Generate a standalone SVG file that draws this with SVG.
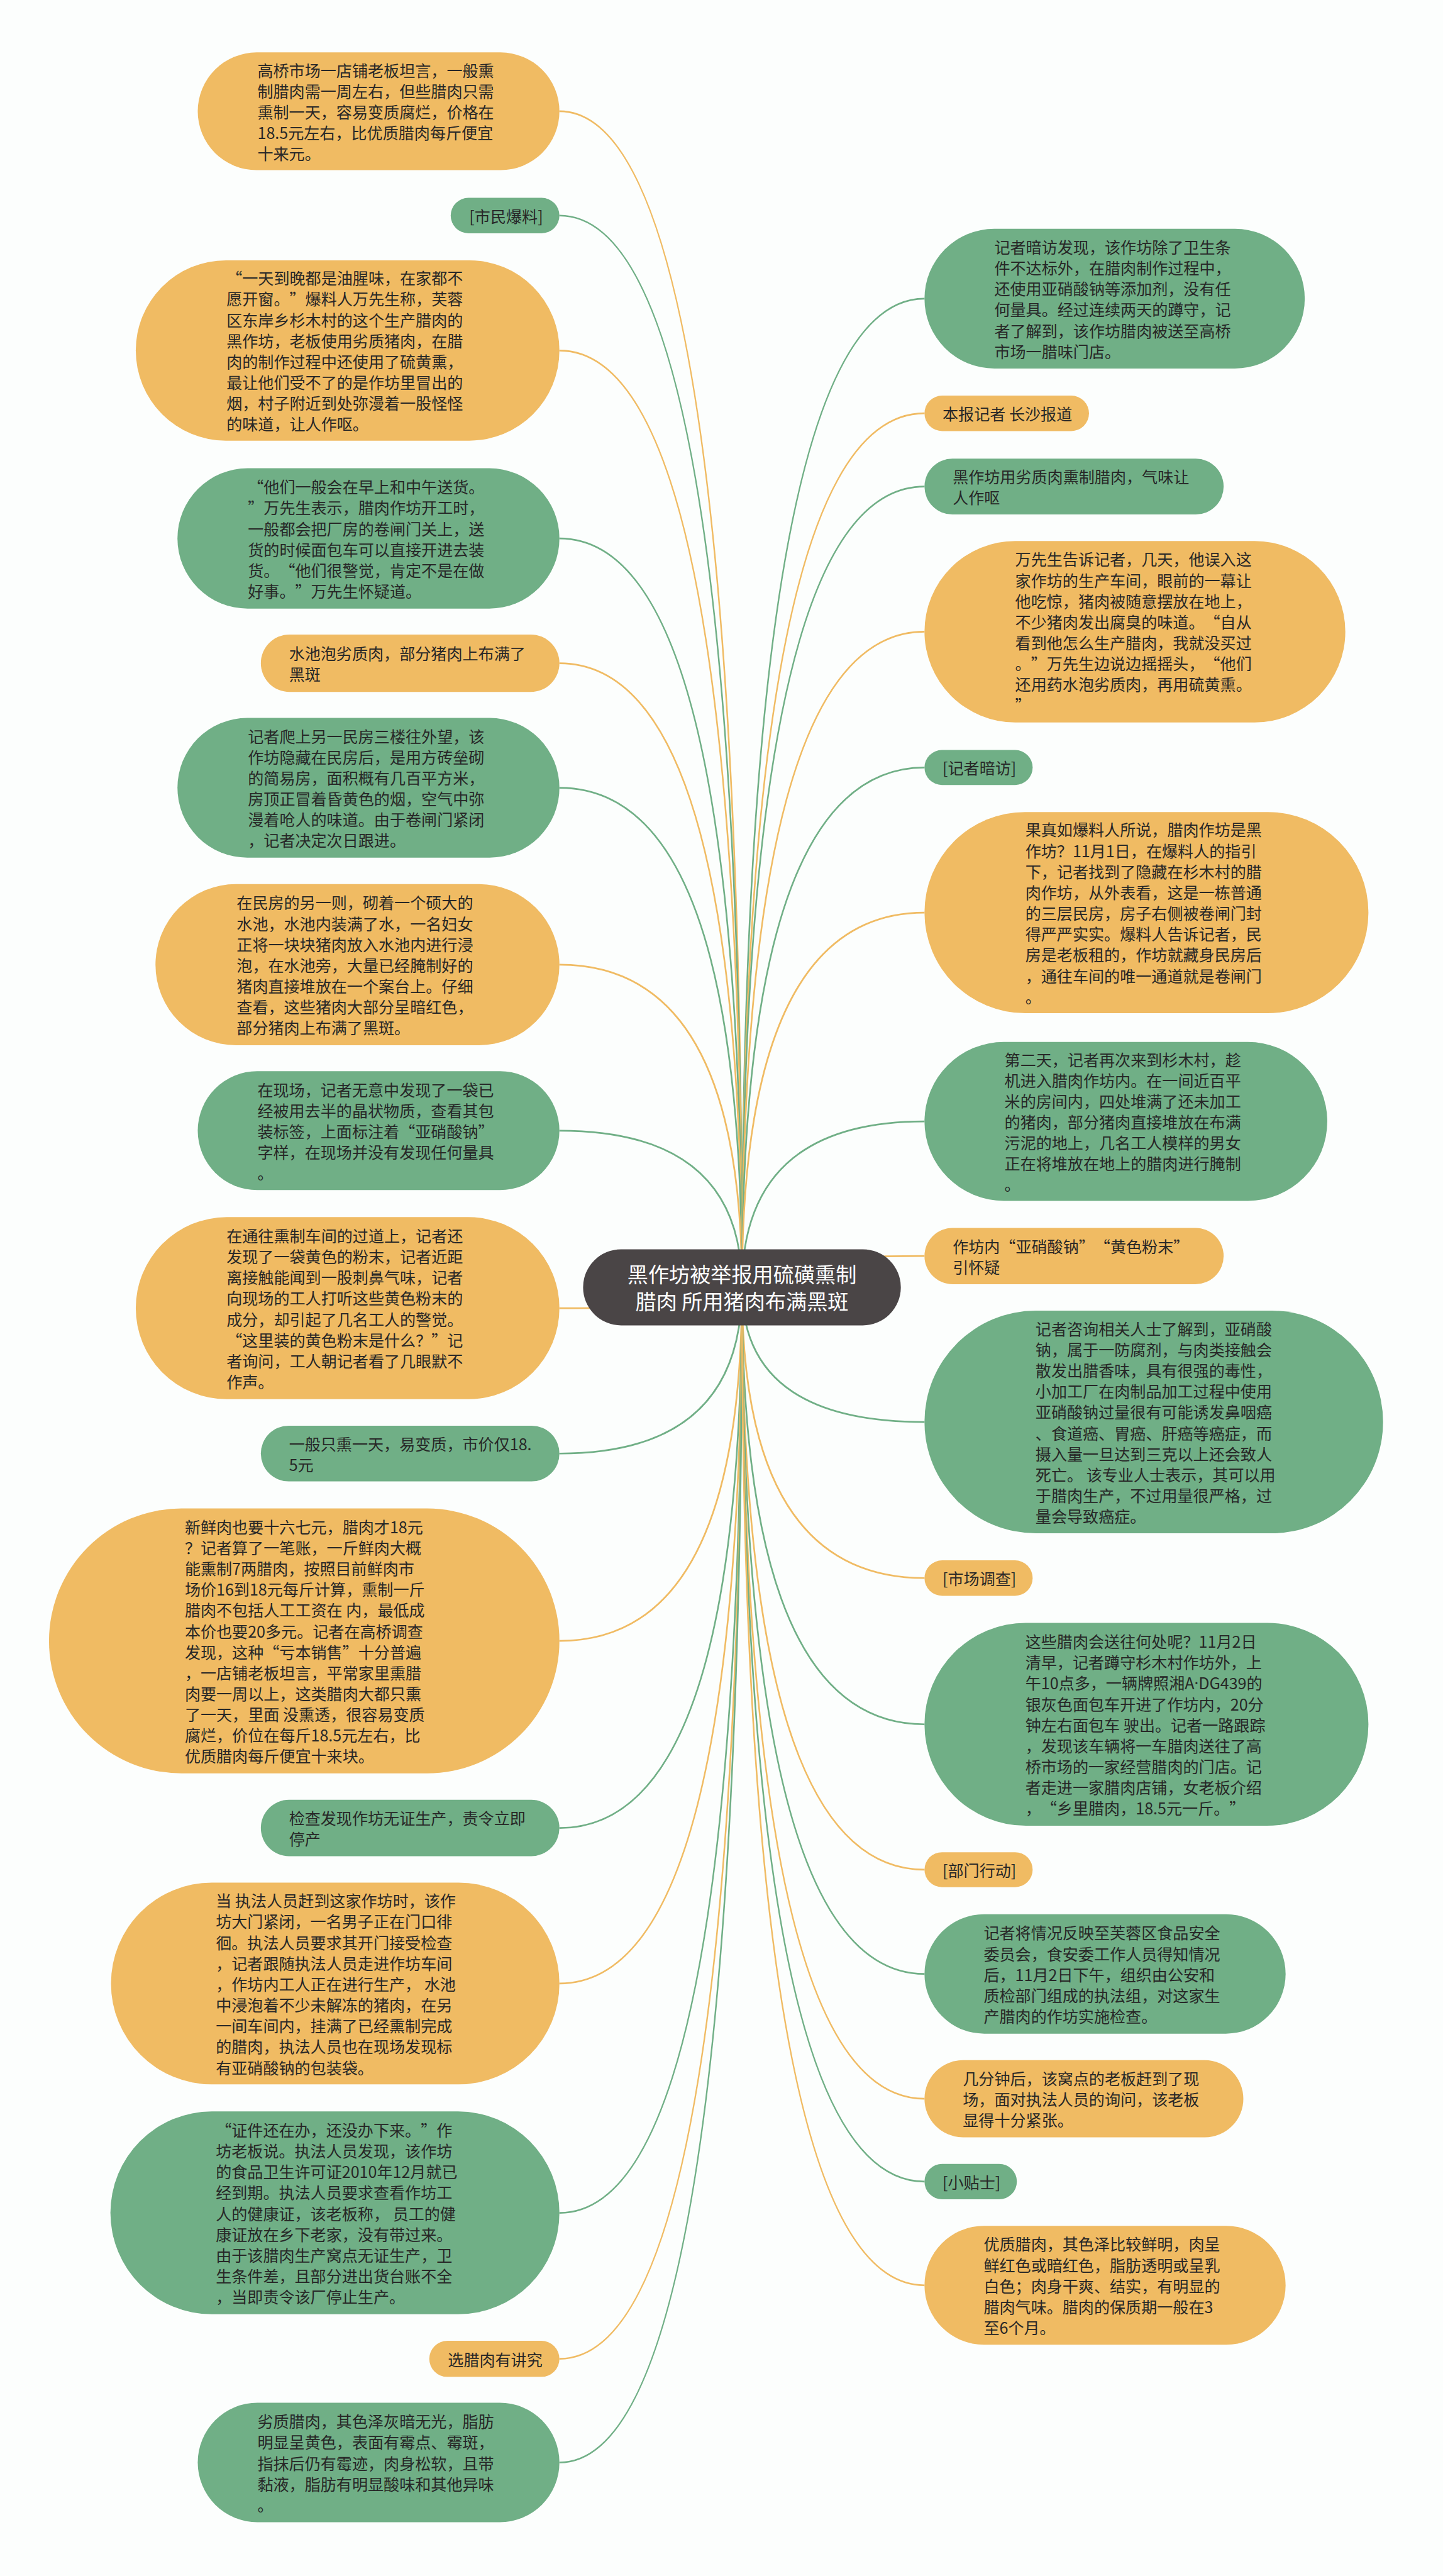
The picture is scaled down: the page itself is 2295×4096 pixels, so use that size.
<svg xmlns="http://www.w3.org/2000/svg" width="2295" height="4096" viewBox="0 0 2295 4096">
<style>
.o{fill:#F0BB63}
.g{fill:#70AF86}
.c{fill:#4A4546}
.lo{fill:none;stroke:#F0BB63;stroke-width:3}
.lg{fill:none;stroke:#70AF86;stroke-width:3}
.t{font-family:"Noto Sans CJK SC","Noto Sans",sans-serif;font-size:28px;fill:#272727;dominant-baseline:central;text-spacing-trim:space-all}
.tc{font-family:"Noto Sans CJK SC","Noto Sans",sans-serif;font-size:37px;fill:#ffffff;dominant-baseline:central;text-anchor:middle;text-spacing-trim:space-all}
.lat{font-family:"Noto Sans",sans-serif}
</style>
<rect x="0" y="0" width="2295" height="4096" fill="#fcfefd"/>
<g transform="scale(0.896)">
<g id="connectors">
<path class="lo" d="M993,197.5 Q1317,197.5 1317,2284"/>
<path class="lg" d="M993,382.5 Q1317,382.5 1317,2284"/>
<path class="lo" d="M993,622 Q1317,622 1317,2284"/>
<path class="lg" d="M993,955.5 Q1317,955.5 1317,2284"/>
<path class="lo" d="M993,1177 Q1317,1177 1317,2284"/>
<path class="lg" d="M993,1398 Q1317,1398 1317,2284"/>
<path class="lo" d="M993,1712 Q1317,1712 1317,2284"/>
<path class="lg" d="M993,2006.5 Q1317,2006.5 1317,2284"/>
<path class="lo" d="M993,2321.5 Q1317,2321.5 1317,2284"/>
<path class="lg" d="M993,2579.5 Q1317,2579.5 1317,2284"/>
<path class="lo" d="M993,2912 Q1317,2912 1317,2284"/>
<path class="lg" d="M993,3244 Q1317,3244 1317,2284"/>
<path class="lo" d="M993,3520 Q1317,3520 1317,2284"/>
<path class="lg" d="M993,3927 Q1317,3927 1317,2284"/>
<path class="lo" d="M993,4186 Q1317,4186 1317,2284"/>
<path class="lg" d="M993,4370 Q1317,4370 1317,2284"/>
<path class="lg" d="M1641,530 Q1317,530 1317,2284"/>
<path class="lo" d="M1641,733.5 Q1317,733.5 1317,2284"/>
<path class="lg" d="M1641,863.5 Q1317,863.5 1317,2284"/>
<path class="lo" d="M1641,1121 Q1317,1121 1317,2284"/>
<path class="lg" d="M1641,1362 Q1317,1362 1317,2284"/>
<path class="lo" d="M1641,1619.5 Q1317,1619.5 1317,2284"/>
<path class="lg" d="M1641,1990 Q1317,1990 1317,2284"/>
<path class="lo" d="M1641,2229 Q1317,2229 1317,2284"/>
<path class="lg" d="M1641,2523.5 Q1317,2523.5 1317,2284"/>
<path class="lo" d="M1641,2800.5 Q1317,2800.5 1317,2284"/>
<path class="lg" d="M1641,3060 Q1317,3060 1317,2284"/>
<path class="lo" d="M1641,3318 Q1317,3318 1317,2284"/>
<path class="lg" d="M1641,3503 Q1317,3503 1317,2284"/>
<path class="lo" d="M1641,3724.5 Q1317,3724.5 1317,2284"/>
<path class="lg" d="M1641,3871.5 Q1317,3871.5 1317,2284"/>
<path class="lo" d="M1641,4055.5 Q1317,4055.5 1317,2284"/>
</g>

<g id="center">
<rect class="c" x="1035" y="2217" width="564" height="135" rx="67.5"/>
<text class="tc"><tspan x="1317" y="2260">黑作坊被举报用硫磺熏制</tspan><tspan x="1317" y="2308">腊肉 所用猪肉布满黑斑</tspan></text>
</g>

<g id="n1">
<rect class="o" x="351" y="93" width="642" height="209" rx="104.5"/>
<text class="t"><tspan x="457" y="123.5">高桥市场一店铺老板坦言，一般熏</tspan><tspan x="457" y="160.5">制腊肉需一周左右，但些腊肉只需</tspan><tspan x="457" y="197.5">熏制一天，容易变质腐烂，价格在</tspan><tspan x="457" y="234.5">18.5元左右，比优质腊肉每斤便宜</tspan><tspan x="457" y="271.5">十来元。</tspan></text>
</g>
<g id="n2">
<rect class="g" x="800" y="351" width="193" height="63" rx="31.5"/>
<text class="t"><tspan x="833" y="382.5">[市民爆料]</tspan></text>
</g>
<g id="n3">
<rect class="o" x="241" y="462" width="752" height="320" rx="160"/>
<text class="t"><tspan x="402" y="492.5">“一天到晚都是油腥味，在家都不</tspan><tspan x="402" y="529.5">愿开窗。”爆料人万先生称，芙蓉</tspan><tspan x="402" y="566.5">区东岸乡杉木村的这个生产腊肉的</tspan><tspan x="402" y="603.5">黑作坊，老板使用劣质猪肉，在腊</tspan><tspan x="402" y="640.5">肉的制作过程中还使用了硫黄熏，</tspan><tspan x="402" y="677.5">最让他们受不了的是作坊里冒出的</tspan><tspan x="402" y="714.5">烟，村子附近到处弥漫着一股怪怪</tspan><tspan x="402" y="751.5">的味道，让人作呕。</tspan></text>
</g>
<g id="n4">
<rect class="g" x="315" y="831" width="678" height="249" rx="124.5"/>
<text class="t"><tspan x="440" y="863">“他们一般会在早上和中午送货。</tspan><tspan x="440" y="900">”万先生表示，腊肉作坊开工时，</tspan><tspan x="440" y="937">一般都会把厂房的卷闸门关上，送</tspan><tspan x="440" y="974">货的时候面包车可以直接开进去装</tspan><tspan x="440" y="1011">货。“他们很警觉，肯定不是在做</tspan><tspan x="440" y="1048">好事。”万先生怀疑道。</tspan></text>
</g>
<g id="n5">
<rect class="o" x="463" y="1126" width="530" height="102" rx="51"/>
<text class="t"><tspan x="513" y="1158.5">水池泡劣质肉，部分猪肉上布满了</tspan><tspan x="513" y="1195.5">黑斑</tspan></text>
</g>
<g id="n6">
<rect class="g" x="315" y="1274" width="678" height="248" rx="124"/>
<text class="t"><tspan x="440" y="1305.5">记者爬上另一民房三楼往外望，该</tspan><tspan x="440" y="1342.5">作坊隐藏在民房后，是用方砖垒砌</tspan><tspan x="440" y="1379.5">的简易房，面积概有几百平方米，</tspan><tspan x="440" y="1416.5">房顶正冒着昏黄色的烟，空气中弥</tspan><tspan x="440" y="1453.5">漫着呛人的味道。由于卷闸门紧闭</tspan><tspan x="440" y="1490.5">，记者决定次日跟进。</tspan></text>
</g>
<g id="n7">
<rect class="o" x="276" y="1569" width="717" height="286" rx="143"/>
<text class="t"><tspan x="420" y="1601">在民房的另一则，砌着一个硕大的</tspan><tspan x="420" y="1638">水池，水池内装满了水，一名妇女</tspan><tspan x="420" y="1675">正将一块块猪肉放入水池内进行浸</tspan><tspan x="420" y="1712">泡，在水池旁，大量已经腌制好的</tspan><tspan x="420" y="1749">猪肉直接堆放在一个案台上。仔细</tspan><tspan x="420" y="1786">查看，这些猪肉大部分呈暗红色，</tspan><tspan x="420" y="1823">部分猪肉上布满了黑斑。</tspan></text>
</g>
<g id="n8">
<rect class="g" x="351" y="1901" width="642" height="211" rx="105.5"/>
<text class="t"><tspan x="457" y="1932.5">在现场，记者无意中发现了一袋已</tspan><tspan x="457" y="1969.5">经被用去半的晶状物质，查看其包</tspan><tspan x="457" y="2006.5">装标签，上面标注着“亚硝酸钠”</tspan><tspan x="457" y="2043.5">字样，在现场并没有发现任何量具</tspan><tspan x="457" y="2080.5">。</tspan></text>
</g>
<g id="n9">
<rect class="o" x="241" y="2160" width="752" height="323" rx="161.5"/>
<text class="t"><tspan x="402" y="2192">在通往熏制车间的过道上，记者还</tspan><tspan x="402" y="2229">发现了一袋黄色的粉末，记者近距</tspan><tspan x="402" y="2266">离接触能闻到一股刺鼻气味，记者</tspan><tspan x="402" y="2303">向现场的工人打听这些黄色粉末的</tspan><tspan x="402" y="2340">成分，却引起了几名工人的警觉。</tspan><tspan x="402" y="2377">“这里装的黄色粉末是什么？”记</tspan><tspan x="402" y="2414">者询问，工人朝记者看了几眼默不</tspan><tspan x="402" y="2451">作声。</tspan></text>
</g>
<g id="n10">
<rect class="g" x="463" y="2530" width="530" height="99" rx="49.5"/>
<text class="t"><tspan x="513" y="2561">一般只熏一天，易变质，市价仅18.</tspan><tspan x="513" y="2598">5元</tspan></text>
</g>
<g id="n11">
<rect class="o" x="87" y="2677" width="906" height="470" rx="235"/>
<text class="t"><tspan x="328" y="2708.5">新鲜肉也要十六七元，腊肉才18元</tspan><tspan x="328" y="2745.5">？记者算了一笔账，一斤鲜肉大概</tspan><tspan x="328" y="2782.5">能熏制7两腊肉，按照目前鲜肉市</tspan><tspan x="328" y="2819.5">场价16到18元每斤计算，熏制一斤</tspan><tspan x="328" y="2856.5">腊肉不包括人工工资在 内，最低成</tspan><tspan x="328" y="2893.5">本价也要20多元。记者在高桥调查</tspan><tspan x="328" y="2930.5">发现，这种“亏本销售”十分普遍</tspan><tspan x="328" y="2967.5">，一店铺老板坦言，平常家里熏腊</tspan><tspan x="328" y="3004.5">肉要一周以上，这类腊肉大都只熏</tspan><tspan x="328" y="3041.5">了一天，里面 没熏透，很容易变质</tspan><tspan x="328" y="3078.5">腐烂，价位在每斤18.5元左右，比</tspan><tspan x="328" y="3115.5">优质腊肉每斤便宜十来块。</tspan></text>
</g>
<g id="n12">
<rect class="g" x="463" y="3194" width="530" height="100" rx="50"/>
<text class="t"><tspan x="513" y="3225.5">检查发现作坊无证生产，责令立即</tspan><tspan x="513" y="3262.5">停产</tspan></text>
</g>
<g id="n13">
<rect class="o" x="197" y="3341" width="796" height="358" rx="179"/>
<text class="t"><tspan x="383" y="3372">当 执法人员赶到这家作坊时，该作</tspan><tspan x="383" y="3409">坊大门紧闭，一名男子正在门口徘</tspan><tspan x="383" y="3446">徊。执法人员要求其开门接受检查</tspan><tspan x="383" y="3483">，记者跟随执法人员走进作坊车间</tspan><tspan x="383" y="3520">，作坊内工人正在进行生产， 水池</tspan><tspan x="383" y="3557">中浸泡着不少未解冻的猪肉，在另</tspan><tspan x="383" y="3594">一间车间内，挂满了已经熏制完成</tspan><tspan x="383" y="3631">的腊肉，执法人员也在现场发现标</tspan><tspan x="383" y="3668">有亚硝酸钠的包装袋。</tspan></text>
</g>
<g id="n14">
<rect class="g" x="196" y="3747" width="797" height="360" rx="180"/>
<text class="t"><tspan x="383" y="3779">“证件还在办，还没办下来。”作</tspan><tspan x="383" y="3816">坊老板说。执法人员发现，该作坊</tspan><tspan x="383" y="3853">的食品卫生许可证2010年12月就已</tspan><tspan x="383" y="3890">经到期。执法人员要求查看作坊工</tspan><tspan x="383" y="3927">人的健康证，该老板称， 员工的健</tspan><tspan x="383" y="3964">康证放在乡下老家，没有带过来。</tspan><tspan x="383" y="4001">由于该腊肉生产窝点无证生产，卫</tspan><tspan x="383" y="4038">生条件差，且部分进出货台账不全</tspan><tspan x="383" y="4075">，当即责令该厂停止生产。</tspan></text>
</g>
<g id="n15">
<rect class="o" x="762" y="4154" width="231" height="64" rx="32"/>
<text class="t"><tspan x="795" y="4186">选腊肉有讲究</tspan></text>
</g>
<g id="n16">
<rect class="g" x="351" y="4264" width="642" height="212" rx="106"/>
<text class="t"><tspan x="457" y="4296">劣质腊肉，其色泽灰暗无光，脂肪</tspan><tspan x="457" y="4333">明显呈黄色，表面有霉点、霉斑，</tspan><tspan x="457" y="4370">指抹后仍有霉迹，肉身松软，且带</tspan><tspan x="457" y="4407">黏液，脂肪有明显酸味和其他异味</tspan><tspan x="457" y="4444">。</tspan></text>
</g>

<g id="r1">
<rect class="g" x="1641" y="406" width="675" height="248" rx="124"/>
<text class="t"><tspan x="1765" y="437.5">记者暗访发现，该作坊除了卫生条</tspan><tspan x="1765" y="474.5">件不达标外，在腊肉制作过程中，</tspan><tspan x="1765" y="511.5">还使用亚硝酸钠等添加剂，没有任</tspan><tspan x="1765" y="548.5">何量具。经过连续两天的蹲守，记</tspan><tspan x="1765" y="585.5">者了解到，该作坊腊肉被送至高桥</tspan><tspan x="1765" y="622.5">市场一腊味门店。</tspan></text>
</g>
<g id="r2">
<rect class="o" x="1641" y="702" width="292" height="63" rx="31.5"/>
<text class="t"><tspan x="1673" y="733.5">本报记者 长沙报道</tspan></text>
</g>
<g id="r3">
<rect class="g" x="1641" y="814" width="531" height="99" rx="49.5"/>
<text class="t"><tspan x="1691" y="845">黑作坊用劣质肉熏制腊肉，气味让</tspan><tspan x="1691" y="882">人作呕</tspan></text>
</g>
<g id="r4">
<rect class="o" x="1641" y="960" width="747" height="322" rx="161"/>
<text class="t"><tspan x="1802" y="991.5">万先生告诉记者，几天，他误入这</tspan><tspan x="1802" y="1028.5">家作坊的生产车间，眼前的一幕让</tspan><tspan x="1802" y="1065.5">他吃惊，猪肉被随意摆放在地上，</tspan><tspan x="1802" y="1102.5">不少猪肉发出腐臭的味道。“自从</tspan><tspan x="1802" y="1139.5">看到他怎么生产腊肉，我就没买过</tspan><tspan x="1802" y="1176.5">。”万先生边说边摇摇头，“他们</tspan><tspan x="1802" y="1213.5">还用药水泡劣质肉，再用硫黄熏。</tspan><tspan x="1802" y="1250.5">”</tspan></text>
</g>
<g id="r5">
<rect class="g" x="1641" y="1331" width="192" height="62" rx="31"/>
<text class="t"><tspan x="1673" y="1362">[记者暗访]</tspan></text>
</g>
<g id="r6">
<rect class="o" x="1641" y="1441" width="788" height="357" rx="178.5"/>
<text class="t"><tspan x="1820" y="1471.5">果真如爆料人所说，腊肉作坊是黑</tspan><tspan x="1820" y="1508.5">作坊？11月1日，在爆料人的指引</tspan><tspan x="1820" y="1545.5">下，记者找到了隐藏在杉木村的腊</tspan><tspan x="1820" y="1582.5">肉作坊，从外表看，这是一栋普通</tspan><tspan x="1820" y="1619.5">的三层民房，房子右侧被卷闸门封</tspan><tspan x="1820" y="1656.5">得严严实实。爆料人告诉记者，民</tspan><tspan x="1820" y="1693.5">房是老板租的，作坊就藏身民房后</tspan><tspan x="1820" y="1730.5">，通往车间的唯一通道就是卷闸门</tspan><tspan x="1820" y="1767.5">。</tspan></text>
</g>
<g id="r7">
<rect class="g" x="1641" y="1849" width="715" height="282" rx="141"/>
<text class="t"><tspan x="1783" y="1879">第二天，记者再次来到杉木村，趁</tspan><tspan x="1783" y="1916">机进入腊肉作坊内。在一间近百平</tspan><tspan x="1783" y="1953">米的房间内，四处堆满了还未加工</tspan><tspan x="1783" y="1990">的猪肉，部分猪肉直接堆放在布满</tspan><tspan x="1783" y="2027">污泥的地上，几名工人模样的男女</tspan><tspan x="1783" y="2064">正在将堆放在地上的腊肉进行腌制</tspan><tspan x="1783" y="2101">。</tspan></text>
</g>
<g id="r8">
<rect class="o" x="1641" y="2179" width="531" height="100" rx="50"/>
<text class="t"><tspan x="1691" y="2210.5">作坊内“亚硝酸钠”“黄色粉末”</tspan><tspan x="1691" y="2247.5">引怀疑</tspan></text>
</g>
<g id="r9">
<rect class="g" x="1641" y="2326" width="814" height="395" rx="197.5"/>
<text class="t"><tspan x="1838" y="2357">记者咨询相关人士了解到，亚硝酸</tspan><tspan x="1838" y="2394">钠，属于一防腐剂，与肉类接触会</tspan><tspan x="1838" y="2431">散发出腊香味，具有很强的毒性，</tspan><tspan x="1838" y="2468">小加工厂在肉制品加工过程中使用</tspan><tspan x="1838" y="2505">亚硝酸钠过量很有可能诱发鼻咽癌</tspan><tspan x="1838" y="2542">、食道癌、胃癌、肝癌等癌症，而</tspan><tspan x="1838" y="2579">摄入量一旦达到三克以上还会致人</tspan><tspan x="1838" y="2616">死亡。 该专业人士表示，其可以用</tspan><tspan x="1838" y="2653">于腊肉生产，不过用量很严格，过</tspan><tspan x="1838" y="2690">量会导致癌症。</tspan></text>
</g>
<g id="r10">
<rect class="o" x="1641" y="2769" width="192" height="63" rx="31.5"/>
<text class="t"><tspan x="1673" y="2800.5">[市场调查]</tspan></text>
</g>
<g id="r11">
<rect class="g" x="1641" y="2880" width="788" height="360" rx="180"/>
<text class="t"><tspan x="1820" y="2912">这些腊肉会送往何处呢？11月2日</tspan><tspan x="1820" y="2949">清早，记者蹲守杉木村作坊外，上</tspan><tspan x="1820" y="2986">午10点多，一辆牌照湘A<tspan class="lat">·</tspan>DG439的</tspan><tspan x="1820" y="3023">银灰色面包车开进了作坊内，20分</tspan><tspan x="1820" y="3060">钟左右面包车 驶出。记者一路跟踪</tspan><tspan x="1820" y="3097">，发现该车辆将一车腊肉送往了高</tspan><tspan x="1820" y="3134">桥市场的一家经营腊肉的门店。记</tspan><tspan x="1820" y="3171">者走进一家腊肉店铺，女老板介绍</tspan><tspan x="1820" y="3208">，“乡里腊肉，18.5元一斤。”</tspan></text>
</g>
<g id="r12">
<rect class="o" x="1641" y="3287" width="192" height="62" rx="31"/>
<text class="t"><tspan x="1673" y="3318">[部门行动]</tspan></text>
</g>
<g id="r13">
<rect class="g" x="1641" y="3397" width="641" height="212" rx="106"/>
<text class="t"><tspan x="1746" y="3429">记者将情况反映至芙蓉区食品安全</tspan><tspan x="1746" y="3466">委员会，食安委工作人员得知情况</tspan><tspan x="1746" y="3503">后，11月2日下午，组织由公安和</tspan><tspan x="1746" y="3540">质检部门组成的执法组，对这家生</tspan><tspan x="1746" y="3577">产腊肉的作坊实施检查。</tspan></text>
</g>
<g id="r14">
<rect class="o" x="1641" y="3656" width="566" height="137" rx="68.5"/>
<text class="t"><tspan x="1709" y="3687.5">几分钟后，该窝点的老板赶到了现</tspan><tspan x="1709" y="3724.5">场，面对执法人员的询问，该老板</tspan><tspan x="1709" y="3761.5">显得十分紧张。</tspan></text>
</g>
<g id="r15">
<rect class="g" x="1641" y="3840" width="164" height="63" rx="31.5"/>
<text class="t"><tspan x="1673" y="3871.5">[小贴士]</tspan></text>
</g>
<g id="r16">
<rect class="o" x="1641" y="3950" width="641" height="211" rx="105.5"/>
<text class="t"><tspan x="1746" y="3981.5">优质腊肉，其色泽比较鲜明，肉呈</tspan><tspan x="1746" y="4018.5">鲜红色或暗红色，脂肪透明或呈乳</tspan><tspan x="1746" y="4055.5">白色；肉身干爽、结实，有明显的</tspan><tspan x="1746" y="4092.5">腊肉气味。腊肉的保质期一般在3</tspan><tspan x="1746" y="4129.5">至6个月。</tspan></text>
</g>
</g>
</svg>
